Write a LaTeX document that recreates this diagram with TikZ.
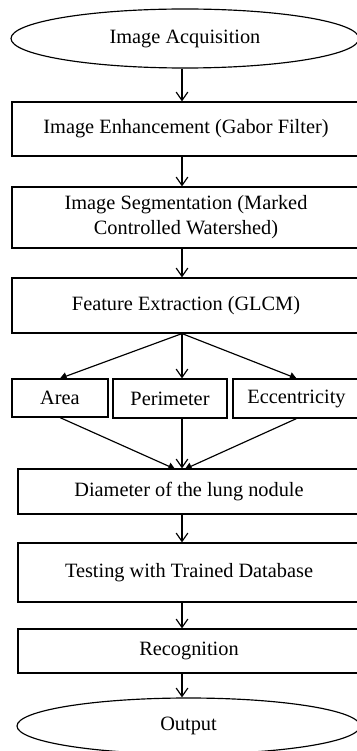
\documentclass[tikz,border=0pt]{standalone}
\usepackage{fontspec}
\setmainfont{Liberation Serif}
\usetikzlibrary{shapes.geometric, arrows.meta}

\begin{document}
\begin{tikzpicture}[x=0.6pt, y=-0.6pt, line width=0.7pt,
    every node/.style={font=\rmfamily\fontsize{12.2}{15}\selectfont},
    stage/.style={draw, rectangle, align=center, inner sep=0pt},
    terminal/.style={draw, ellipse, inner sep=0pt},
    flow/.style={-{Straight Barb[length=5pt, width=7pt]}},
    merge/.style={-{Triangle[length=4pt, width=4.5pt]}}]
    \useasboundingbox (0,0) rectangle (357,751);

    % main column
    \node[terminal, minimum width=208.8pt, minimum height=35.4pt]
      (acq) at (185, 38.5) {Image Acquisition};
    \node[stage, minimum width=208.8pt, minimum height=32.4pt]
      (enh) at (186, 129) {Image Enhancement (Gabor Filter)};
    \node[stage, minimum width=208.8pt, minimum height=36.6pt]
      (seg) at (186, 217.5) {Image Segmentation (Marked\\Controlled Watershed)};
    \node[stage, minimum width=208.8pt, minimum height=33pt]
      (feat) at (186, 305.5) {Feature Extraction (GLCM)};

    % the three features
    \node[stage, minimum width=57.6pt, minimum height=22.8pt]
      (area) at (60, 398) {Area};
    \node[stage, minimum width=68.4pt, minimum height=23.4pt]
      (perim) at (170, 398.5) {Perimeter};
    \node[stage, minimum width=76.2pt, minimum height=23.4pt]
      (ecc) at (296.5, 398.5) {Eccentricity};

    \node[stage, minimum width=205.2pt, minimum height=27pt]
      (diam) at (189, 491.5) {Diameter of the lung nodule};
    \node[stage, minimum width=205.2pt, minimum height=35.4pt]
      (test) at (189, 572.5) {Testing with Trained Database};
    \node[stage, minimum width=205.2pt, minimum height=26.4pt]
      (recog) at (189, 651) {Recognition};
    \node[terminal, minimum width=205.8pt, minimum height=33.6pt]
      (out) at (188.5, 726) {Output};

    % arrows run down this line
    \coordinate (spine) at (182, 0);
    \coordinate (joinL) at (175, 469);
    \coordinate (joinR) at (185, 469);

    \draw[flow] (acq.south -| spine) -- (enh.north -| spine);
    \draw[flow] (enh.south -| spine) -- (seg.north -| spine);
    \draw[flow] (seg.south -| spine) -- (feat.north -| spine);

    \draw[merge] (feat.south -| spine) -- (area.north);
    \draw[flow] (feat.south -| spine) -- (perim.north -| spine);
    \draw[merge] (feat.south -| spine) -- (ecc.north);

    \draw[merge] (area.south) -- (joinL);
    \draw[flow] (perim.south -| spine) -- (diam.north -| spine);
    \draw[merge] (ecc.south) -- (joinR);

    \draw[flow] (diam.south -| spine) -- (test.north -| spine);
    \draw[flow] (test.south -| spine) -- (recog.north -| spine);
    \draw[flow] (recog.south -| spine) -- (out.north -| spine);
\end{tikzpicture}
\end{document}
